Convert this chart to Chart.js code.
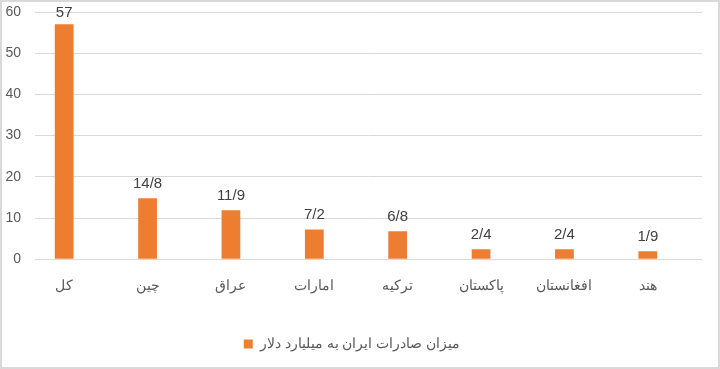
<!DOCTYPE html>
<html>
<head>
<meta charset="utf-8">
<script src="https://cdn.jsdelivr.net/npm/chart.js@4/dist/chart.umd.min.js"></script>
<style>
  html, body { margin: 0; padding: 0; background: #fff; }
  #wrap { width: 716px; height: 365px; border: 2px solid #d9d9d9; position: relative; }
</style>
</head>
<body>
<div id="wrap"><canvas id="exports"></canvas></div>
<script>
// categories and values (billion dollars)
const countries = ["کل", "چین", "عراق", "امارات", "ترکیه", "پاکستان", "افغانستان", "هند"];
const exportValues = [57, 14.8, 11.9, 7.2, 6.8, 2.4, 2.4, 1.9];
const yTicks = [0, 10, 20, 30, 40, 50, 60];
const seriesName = "میزان صادرات ایران به میلیارد دلار";

const ORANGE = "#ED7D31";
const TEXT = "#595959";
const FONT = "'Liberation Sans', Arial, sans-serif";

// value labels above bars, decimal point written as "/"
const valueLabels = {
  id: "valueLabels",
  afterDatasetsDraw(chart) {
    const { ctx, chartArea } = chart;
    const meta = chart.getDatasetMeta(0);
    ctx.save();
    ctx.font = "15px " + FONT;
    ctx.fillStyle = "#404040";
    ctx.textAlign = "center";
    ctx.textBaseline = "bottom";
    meta.data.forEach((bar, i) => {
      const txt = String(exportValues[i]).replace(".", "/");
      // keep the label inside the plot like Excel does
      const y = Math.max(bar.y - 7, chartArea.top + 8);
      ctx.fillText(txt, bar.x, y);
    });
    ctx.restore();
  }
};

new Chart(document.getElementById("exports"), {
  type: "bar",
  data: {
    datasets: [{
      label: seriesName,
      data: exportValues.map((v, i) => ({ x: i, y: v })),
      backgroundColor: ORANGE,
      barPercentage: 0.45,
      categoryPercentage: 0.5
    }]
  },
  options: {
    responsive: true,
    maintainAspectRatio: false,
    animation: false,
    layout: { padding: { left: 0, right: 16, top: 0, bottom: 6 } },
    scales: {
      x: {
        type: "linear",
        offset: false,
        min: -0.35,
        max: 7.65,
        afterBuildTicks: axis => { axis.ticks = countries.map((c, i) => ({ value: i })); },
        grid: { display: false },
        border: { display: false },
        ticks: {
          color: TEXT,
          font: { size: 14, family: FONT },
          padding: 11,
          maxRotation: 0,
          callback: v => countries[v]
        }
      },
      y: {
        min: 0,
        max: 60,
        afterBuildTicks: axis => { axis.ticks = yTicks.map(v => ({ value: v })); },
        afterFit: axis => {
          axis.width = 33;
          axis.paddingTop = 10;
          axis.paddingBottom = 8;
        },
        grid: { color: "#d9d9d9", drawTicks: false },
        border: { display: false },
        ticks: { color: TEXT, font: { size: 14, family: FONT }, padding: 14 }
      }
    },
    plugins: {
      legend: {
        position: "bottom",
        labels: {
          color: TEXT,
          boxWidth: 9,
          boxHeight: 9,
          padding: 31,
          font: { size: 14, family: FONT }
        }
      },
      tooltip: { enabled: false }
    }
  },
  plugins: [valueLabels]
});
</script>
</body>
</html>
